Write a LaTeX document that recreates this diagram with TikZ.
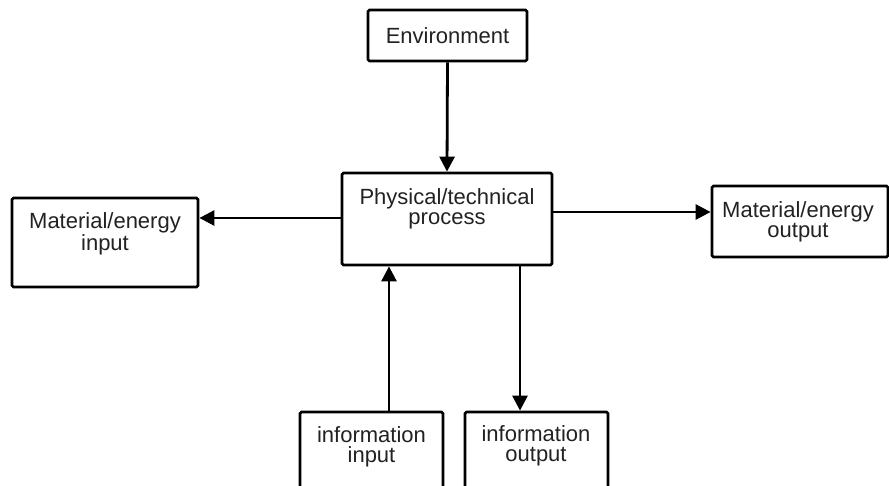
\documentclass[tikz,border=0pt]{standalone}
\usepackage{fontspec}
\setmainfont{Liberation Sans}
\usetikzlibrary{arrows.meta}
\definecolor{txt}{HTML}{222222}
\tikzset{
  box/.style={draw=black, line width=2.8pt, rounded corners=1.5pt, fill=white, inner sep=0pt},
  lbl/.style={text=txt, align=center, inner sep=0pt, font=\fontsize{22}{20}\selectfont},
  arr/.style={draw=black, line width=2.8pt, -{Triangle[length=15pt,width=15pt]}}
}
\begin{document}
\begin{tikzpicture}[x=1pt,y=-1pt]
\useasboundingbox (0,0) rectangle (889,486);
\clip (0,0) rectangle (889,486);
\fill[white] (0,0) rectangle (889,486);
% boxes
\node[box, minimum width=159pt, minimum height=51pt] (env) at (447.5,35.5) {};
\node[box, minimum width=210pt, minimum height=92pt] (phys) at (447,219) {};
\node[box, minimum width=186pt, minimum height=89pt] (matin) at (105,242.5) {};
\node[box, minimum width=176pt, minimum height=71pt] (matout) at (800,221.5) {};
\node[box, minimum width=143pt, minimum height=80pt] (infoin) at (371.5,452) {};
\node[box, minimum width=143pt, minimum height=80pt] (infoout) at (536.5,452) {};
% texts
\node[lbl] (envt) at (447.5,35.5) {Environment};
\node[lbl] (physt) at (447,209) {Physical/technical\\process};
\node[lbl] (matint) at (105,234) {Material/energy\\input};
\node[lbl] (matoutt) at (798,222) {Material/energy\\output};
\node[lbl] (infoint) at (371.5,447) {information\\input};
\node[lbl] (infooutt) at (536,446) {information\\output};
% connectors
\draw[arr] (env.south) -- (phys.north);
\draw[arr] ([yshift=1pt]phys.west) -- ([yshift=1pt]phys.west -| matin.east);
\draw[arr] ([yshift=7pt]phys.east) -- ([yshift=7pt]phys.east -| matout.west);
\draw[arr] ([xshift=17.5pt]infoin.north) -- ([xshift=17.5pt]infoin.north |- phys.south);
\draw[arr] ([xshift=-16.5pt]infoout.north |- phys.south) -- ([xshift=-16.5pt]infoout.north);
\end{tikzpicture}
\end{document}
